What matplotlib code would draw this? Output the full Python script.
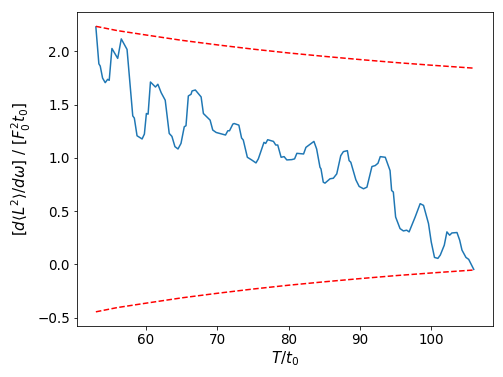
import matplotlib.pyplot as plt

# curva medida
T = [53.0, 53.42, 53.61, 53.94, 54.31, 54.65, 54.87, 55.25, 56.06, 56.56,
     57.37, 58.17, 58.39, 58.77, 59.48, 59.80, 60.08, 60.32, 60.65, 61.35,
     61.69, 62.15, 62.72, 63.28, 63.66, 64.08, 64.51, 64.93, 65.39, 65.63,
     65.96, 66.34, 66.48, 66.94, 67.75, 68.07, 69.01, 69.38, 69.86, 71.17,
     71.49, 71.73, 72.20, 72.39, 73.04, 73.42, 73.66, 74.23, 74.83, 75.44,
     75.77, 76.56, 76.80, 77.08, 77.89, 78.21, 78.49, 78.96, 79.38, 79.76,
     80.46, 80.85, 81.17, 82.11, 82.44, 83.56, 83.94, 84.41, 84.55, 84.87,
     85.11, 85.82, 86.28, 86.76, 87.32, 87.69, 88.25, 88.49, 88.73, 89.44,
     89.90, 90.51, 90.99, 91.69, 92.15, 92.54, 92.86, 93.56, 94.23, 94.45,
     94.69, 95.01, 95.63, 96.10, 96.56, 96.90, 97.75, 98.45, 98.92, 99.62,
     100.00, 100.46, 100.93, 101.27, 101.83, 102.20, 102.58, 102.90, 103.61, 103.99,
     104.31, 104.87, 105.25, 105.96]
dL2 = [2.230, 1.884, 1.863, 1.750, 1.707, 1.738, 1.729, 2.028, 1.935, 2.118,
       2.019, 1.395, 1.374, 1.208, 1.178, 1.224, 1.417, 1.411, 1.713, 1.666,
       1.692, 1.613, 1.542, 1.230, 1.202, 1.106, 1.084, 1.136, 1.293, 1.302,
       1.582, 1.598, 1.629, 1.638, 1.573, 1.417, 1.355, 1.262, 1.239, 1.215,
       1.255, 1.255, 1.318, 1.323, 1.308, 1.187, 1.168, 1.006, 0.981, 0.953,
       0.991, 1.146, 1.136, 1.171, 1.155, 1.121, 1.121, 1.006, 1.012, 0.981,
       0.984, 0.991, 1.043, 1.037, 1.099, 1.155, 1.084, 0.912, 0.897, 0.772,
       0.763, 0.804, 0.809, 0.850, 1.021, 1.059, 1.068, 0.975, 0.959, 0.794,
       0.732, 0.710, 0.725, 0.919, 0.928, 0.950, 1.012, 1.006, 0.881, 0.694,
       0.679, 0.445, 0.336, 0.314, 0.321, 0.305, 0.445, 0.570, 0.554, 0.383,
       0.211, 0.065, 0.056, 0.087, 0.180, 0.305, 0.274, 0.295, 0.299, 0.227,
       0.134, 0.065, 0.047, -0.047]

# envelopes (linhas tracejadas)
T_env = [53, 56, 60, 65, 70, 75, 80, 85, 90, 95, 100, 106]
env_sup = [2.236, 2.196, 2.155, 2.105, 2.062, 2.022, 1.986, 1.954, 1.924, 1.896, 1.871, 1.843]
env_inf = [-0.446, -0.406, -0.365, -0.315, -0.272, -0.232, -0.196, -0.164, -0.134, -0.106, -0.081, -0.053]

fig = plt.figure(figsize=(503 / 72, 377 / 72), dpi=72)
ax = fig.add_axes([0.153, 0.135, 0.827, 0.833])
ax.plot(T, dL2, color='C0')
ax.plot(T_env, env_sup, 'r--')
ax.plot(T_env, env_inf, 'r--')
ax.set_xlabel(r'$T/t_0$', fontsize=15, labelpad=2)
ax.set_ylabel(r'$[d\langle L^2\rangle/d\omega]\ /\ [F_0^2t_0]$', fontsize=15)
ax.tick_params(labelsize=13.5)
fig.savefig('out.png', dpi=72)
